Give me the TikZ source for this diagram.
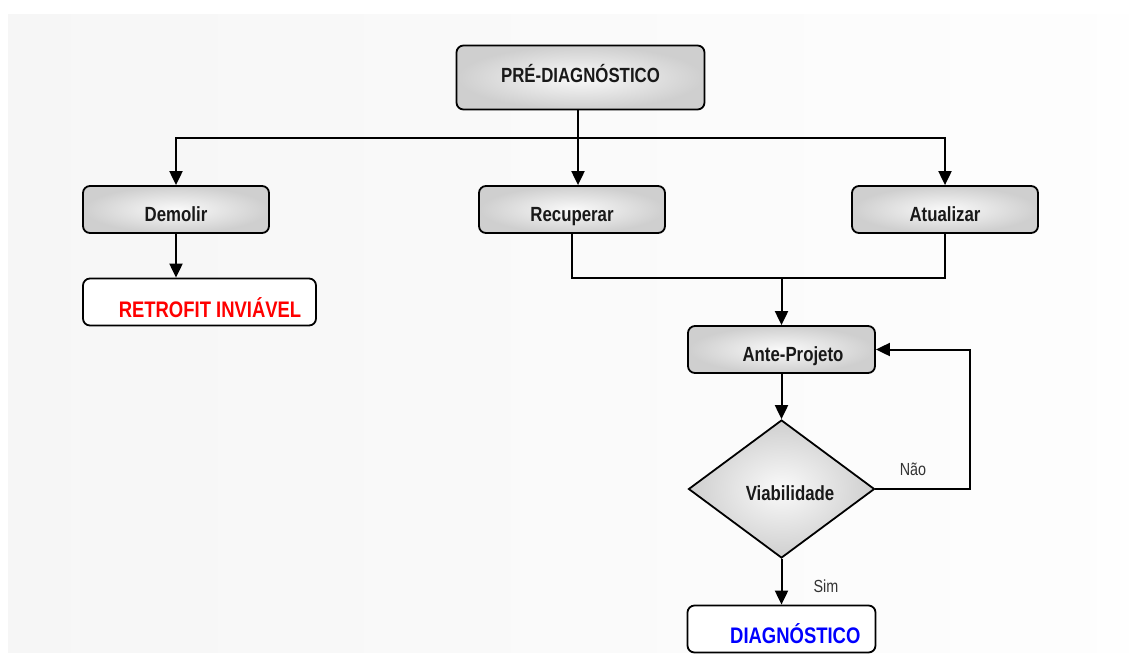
\documentclass[tikz,border=0pt]{standalone}
\usepackage{fontspec}
\newfontfamily\nar[FakeStretch=0.82]{Liberation Sans}
\usetikzlibrary{arrows.meta,shapes.geometric}
\begin{document}
\begin{tikzpicture}[x=1pt,y=-1pt,
  boxfont/.style={font=\nar\bfseries\fontsize{20.5}{24}\selectfont},
  bigfont/.style={font=\nar\bfseries\fontsize{22.5}{26}\selectfont},
  grayfill/.style={shading=radial, inner color=gray!4, outer color=gray!38},
  gbox/.style={draw=black, line width=1.8pt, rounded corners=7pt, grayfill,
    minimum width=186pt, minimum height=47pt, inner sep=0pt, boxfont, text=black!90,
    text height=23.5pt, text depth=0pt},
  wbox/.style={draw=black, line width=1.8pt, rounded corners=7pt, fill=white,
    minimum height=47pt, inner sep=0pt, bigfont, text depth=0pt},
  conn/.style={line width=2pt, draw=black},
  arr/.style={conn, -{Triangle[length=14pt,width=13pt]}},
  lbl/.style={font=\nar\fontsize{17.5}{20}\selectfont, text=black!80}
]
\useasboundingbox (0,0) rectangle (1129,657);
\shade[left color=gray!7, right color=gray!1] (8,14) rectangle (1129,652);

\node[gbox, minimum width=248pt, minimum height=64pt, text height=9pt] (pre) at (580.5,77.5) {PRÉ-DIAGNÓSTICO};
\node[gbox] (dem) at (176,209.5) {Demolir};
\node[gbox] (rec) at (572,209.5) {Recuperar};
\node[gbox] (atu) at (945,209.5) {Atualizar};
\node[wbox, minimum width=233pt, text=red, text height=30.8pt] (ret) at (199.5,302) {\hspace*{21pt}RETROFIT INVIÁVEL};
\node[gbox, minimum width=187pt] (ante) at (781.5,349.5) {\hspace*{23pt}Ante-Projeto};
\node[draw=black, diamond, aspect=1.35, line width=1.8pt, grayfill,
  minimum width=186pt, minimum height=138pt, inner sep=0pt,
  boxfont, text=black!90, text height=23pt, text depth=0pt] (via) at (781.5,489) {\hspace*{17pt}Viabilidade};
\node[wbox, minimum width=188pt, text=blue, text height=29.4pt] (diag) at (781.5,629) {\hspace*{27.6pt}DIAGNÓSTICO};

\coordinate (split) at (578,138);
\coordinate (merge) at (781.5,278);

\draw[arr] (pre.south -| split) -- (rec.north -| split);
\draw[arr] (split) -| (dem.north);
\draw[arr] (split) -| (atu.north);
\draw[arr] (dem.south) -- (ret.north -| dem.south);
\draw[conn] (rec.south) |- (merge) -| (atu.south);
\draw[arr] (merge) -- (ante.north);
\draw[arr] (ante.south) -- (via.north);
\draw[arr] (via.east) -- ++(95,0) |- (ante.east);
\draw[arr] (via.south) -- (diag.north);
\node[lbl] (nao) at (913,469) {Não};
\node[lbl] (sim) at (826,586) {Sim};
\end{tikzpicture}
\end{document}
